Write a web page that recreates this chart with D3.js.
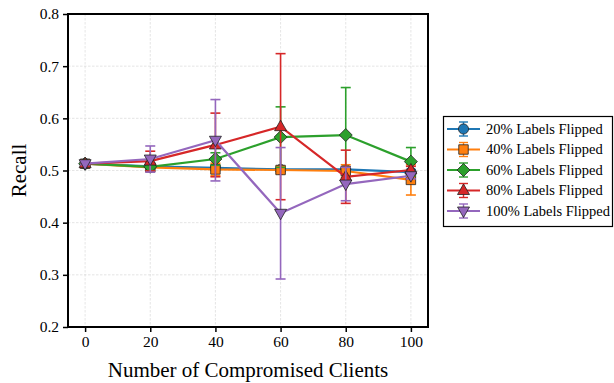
<!DOCTYPE html>
<html><head><meta charset="utf-8">
<script src="https://cdn.jsdelivr.net/npm/d3@7"></script>
<style>body{margin:0;background:#fff}svg{display:block}svg text{font-family:"Liberation Serif","Times New Roman",serif !important}</style>
</head><body><svg id="c" width="614" height="383"></svg>
<script>
const clients = [0, 20, 40, 60, 80, 100];
const yTicks = [0.2, 0.3, 0.4, 0.5, 0.6, 0.7, 0.8];
const seriesNames = ["20% Labels Flipped","40% Labels Flipped","60% Labels Flipped","80% Labels Flipped","100% Labels Flipped"];
const colors = ["#1f77b4","#ff7f0e","#2ca02c","#d62728","#9467bd"];
const markers = ["circle","square","diamond","triangle","triangleDown"];
const mean20 = [0.513, 0.508, 0.505, 0.502, 0.502, 0.497];
const err20  = [0.002, 0.004, 0.005, 0.004, 0.004, 0.005];
const mean40 = [0.513, 0.506, 0.502, 0.501, 0.499, 0.482];
const err40  = [0.002, 0.005, 0.012, 0.006, 0.012, 0.029];
const mean60 = [0.513, 0.507, 0.522, 0.564, 0.568, 0.517];
const err60  = [0.002, 0.005, 0.012, 0.058, 0.091, 0.027];
const mean80 = [0.513, 0.518, 0.549, 0.584, 0.488, 0.501];
const err80  = [0.002, 0.019, 0.061, 0.140, 0.051, 0.007];
const mean100= [0.513, 0.522, 0.558, 0.418, 0.474, 0.490];
const err100 = [0.002, 0.025, 0.078, 0.126, 0.032, 0.006];
const means = [mean20, mean40, mean60, mean80, mean100];
const errs = [err20, err40, err60, err80, err100];

const svg = d3.select("#c");
const L = 68, R = 428, T = 14, B = 327;
const x = d3.scaleLinear().domain([-5.25, 105.25]).range([L, R]);
const y = d3.scaleLinear().domain([0.2, 0.8]).range([B, T]);

const g = svg.append("g");
g.selectAll(".gx").data(clients).enter().append("line")
  .attr("x1", d => x(d)).attr("x2", d => x(d)).attr("y1", T).attr("y2", B)
  .attr("stroke", "#d4d4d4").attr("stroke-width", 0.6).attr("stroke-dasharray", "2.5,1.5");
g.selectAll(".gy").data(yTicks).enter().append("line")
  .attr("x1", L).attr("x2", R).attr("y1", d => y(d)).attr("y2", d => y(d))
  .attr("stroke", "#d4d4d4").attr("stroke-width", 0.6).attr("stroke-dasharray", "2.5,1.5");

function markerPath(type) {
  if (type === "circle") return d3.symbol().type(d3.symbolCircle).size(80)();
  if (type === "square") return d3.symbol().type(d3.symbolSquare).size(90)();
  if (type === "diamond") { const r = 6.5; return `M0,${-r}L${r},0L0,${r}L${-r},0Z`; }
  if (type === "triangle") return "M0,-6.5L6,4L-6,4Z";
  return "M0,6.5L6,-4L-6,-4Z";
}

const plot = svg.append("g");
means.forEach((ms, si) => {
  const c = colors[si];
  const line = d3.line().x((d, i) => x(clients[i])).y(d => y(d));
  const sg = plot.append("g");
  ms.forEach((m, i) => {
    const e = errs[si][i], cx = x(clients[i]);
    sg.append("line").attr("x1", cx).attr("x2", cx).attr("y1", y(m - e)).attr("y2", y(m + e))
      .attr("stroke", c).attr("stroke-width", 1.6);
    [m - e, m + e].forEach(v => sg.append("line").attr("x1", cx - 5).attr("x2", cx + 5)
      .attr("y1", y(v)).attr("y2", y(v)).attr("stroke", c).attr("stroke-width", 1.6));
  });
  sg.append("path").attr("d", line(ms)).attr("fill", "none").attr("stroke", c).attr("stroke-width", 2.2);
  ms.forEach((m, i) => {
    sg.append("path").attr("d", markerPath(markers[si]))
      .attr("transform", `translate(${x(clients[i])},${y(m)})`)
      .attr("fill", c).attr("stroke", "#222").attr("stroke-width", 0.8);
  });
});

const xa = svg.append("g").attr("transform", `translate(0,${B})`)
  .call(d3.axisBottom(x).tickValues(clients).tickSize(5).tickPadding(4).tickFormat(d3.format("d")));
const ya = svg.append("g").attr("transform", `translate(${L},0)`)
  .call(d3.axisLeft(y).tickValues(yTicks).tickSize(5).tickPadding(4).tickFormat(d3.format(".1f")));
[xa, ya].forEach(a => {
  a.attr("font-family", null).attr("font-size", null);
  a.select(".domain").remove();
  a.selectAll(".tick line").attr("stroke", "#000").attr("stroke-width", 1.5);
  a.selectAll(".tick text").attr("fill", "#000").style("font-size", "15.5px");
});
svg.append("rect").attr("x", L).attr("y", T).attr("width", R - L).attr("height", B - T)
  .attr("fill", "none").attr("stroke", "#000").attr("stroke-width", 2);

svg.append("text").attr("x", (L + R) / 2).attr("y", 377).attr("text-anchor", "middle")
  .style("font-size", "21px").text("Number of Compromised Clients");
svg.append("text").attr("transform", `translate(26,${(T + B) / 2}) rotate(-90)`).attr("text-anchor", "middle")
  .style("font-size", "21px").text("Recall");

const lg = svg.append("g");
lg.append("rect").attr("x", 443.5).attr("y", 116.5).attr("width", 169).attr("height", 110)
  .attr("fill", "#fff").attr("stroke", "#000").attr("stroke-width", 1.2);
seriesNames.forEach((n, i) => {
  const cy = 129 + i * 20.5, c = colors[i];
  lg.append("line").attr("x1", 447).attr("x2", 480).attr("y1", cy).attr("y2", cy).attr("stroke", c).attr("stroke-width", 2.2);
  lg.append("line").attr("x1", 463.5).attr("x2", 463.5).attr("y1", cy - 7).attr("y2", cy + 7).attr("stroke", c).attr("stroke-width", 1.4);
  [cy - 7, cy + 7].forEach(v => lg.append("line").attr("x1", 459).attr("x2", 468).attr("y1", v).attr("y2", v).attr("stroke", c).attr("stroke-width", 1.4));
  lg.append("path").attr("d", markerPath(markers[i]))
    .attr("transform", `translate(463.5,${cy})`)
    .attr("fill", c).attr("stroke", "#222").attr("stroke-width", 0.8);
  lg.append("text").attr("x", 486).attr("y", cy + 4.5).style("font-size", "14.5px").text(n);
});
</script></body></html>
